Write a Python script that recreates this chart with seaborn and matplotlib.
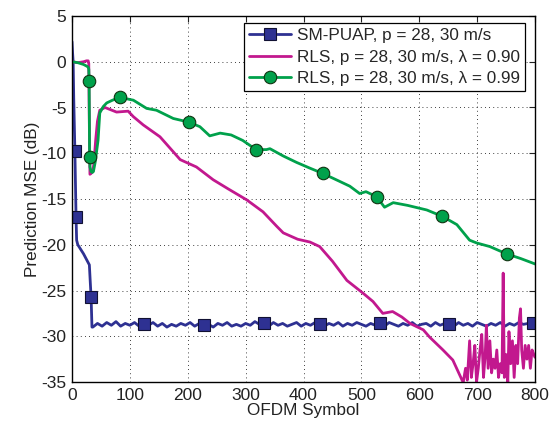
import numpy as np
import pandas as pd
import matplotlib
matplotlib.use("Agg")
import matplotlib.pyplot as plt
import seaborn as sns

# ---- data ----
# SM-PUAP: fast initial drop, then a noisy floor
sm_head_x = [0, 1, 2, 3, 5, 7, 8, 10, 15, 20, 25, 30, 31.5, 33, 34.5]
sm_head_y = [2.2, 1.0, 0.0, -4.0, -9.8, -17.0, -19.5, -20.0, -20.5, -21.0, -21.6, -22.2, -24.0, -25.7, -29.0]
sm_floor_x = np.arange(36, 800, 8)
sm_floor_y = [-29.0, -28.6, -28.9, -28.5, -28.8, -28.4, -28.9, -28.6, -28.8, -28.5, -28.9, -28.7,
              -28.8, -28.5, -28.9, -28.6, -29.0, -28.7, -28.9, -28.6, -28.8, -28.5, -28.9, -28.6,
              -28.8, -28.7, -29.0, -28.6, -28.8, -28.5, -28.9, -28.7, -28.9, -28.6, -28.8, -28.4,
              -28.7, -28.6, -28.9, -28.5, -28.8, -28.6, -28.9, -28.7, -28.5, -28.9, -28.6, -28.8,
              -28.5, -28.7, -28.9, -28.6, -28.8, -28.5, -28.9, -28.6, -28.8, -28.5, -28.7, -28.9,
              -28.6, -28.8, -28.6, -28.9, -28.5, -28.7, -28.9, -28.6, -28.8, -28.5, -28.9, -28.7,
              -28.6, -28.9, -28.5, -28.8, -28.6, -28.7, -28.9, -28.5, -28.8, -28.6, -28.9, -28.5,
              -28.7, -28.9, -28.6, -28.8, -28.5, -28.9, -28.6, -28.8, -28.5, -28.7, -28.6, -28.5]
sm_marker_x = [5, 7, 33, 124, 228, 332, 428, 532, 652, 796]

# RLS lambda = 0.90
rls90_x = [0, 10, 20, 25, 28, 29, 29.5, 30.5, 31, 33, 36, 38, 41, 44, 48, 57, 77, 97, 106, 123,
           152, 187, 215, 244, 270, 302, 330, 342, 354, 365, 390, 411, 428, 450, 475, 503, 520, 537,
           554, 570, 584, 607, 618, 641, 658, 674,
           676, 680, 683, 687, 690, 693, 696, 699, 702, 705, 708, 711, 714, 716, 719, 722, 725,
           728, 731, 734, 737, 740, 743, 745, 747, 750, 753, 755, 758, 761, 764, 767, 770, 773,
           775, 777, 780, 783, 786, 789, 792, 795, 798, 800]
rls90_y = [0.0, -0.1, 0.0, 0.1, 0.1, -0.2, -4.0, -10.0, -12.3, -12.2, -12.0, -11.0, -8.5, -6.5,
           -5.3, -5.0, -5.5, -5.4, -6.0, -6.9, -8.2, -10.7, -11.5, -12.9, -13.9, -15.1, -16.4,
           -17.2, -18.0, -18.7, -19.4, -19.7, -20.2, -21.8, -23.9, -25.3, -26.2, -27.5, -27.3, -27.9,
           -28.6, -29.3, -30.1, -31.5, -32.6, -34.8,
           -35.0, -33.5, -34.8, -30.5, -34.5, -33.0, -31.0, -35.0, -33.5, -31.5, -29.8, -34.5,
           -32.0, -28.8, -33.5, -30.5, -34.0, -32.5, -33.5, -31.5, -34.5, -33.0, -34.0, -23.1,
           -34.5, -32.0, -35.0, -29.5, -33.0, -30.5, -34.5, -31.0, -33.0, -28.0, -27.0, -31.5,
           -33.5, -31.0, -32.5, -31.0, -33.5, -31.5, -32.0, -32.3]

# RLS lambda = 0.99
rls99_x = [0, 10, 20, 26, 28, 29, 29.6, 30.4, 31, 33, 35, 37, 40, 45, 48, 54, 60, 70, 83, 106,
           129, 146, 175, 202, 221, 238, 256, 275, 295, 318, 336, 342, 365, 388, 410, 433, 460,
           480, 497, 508, 518, 527, 540, 555, 580, 613, 640, 665, 687, 699, 722, 751, 775, 796, 800]
rls99_y = [0.0, -0.1, -0.3, -0.5, -0.6, -0.8, -2.1, -10.4, -11.5, -12.0, -12.1, -12.0, -11.0,
           -8.6, -5.6, -4.9, -4.5, -4.2, -3.9, -4.2, -5.1, -5.3, -6.2, -6.6, -7.1, -8.1, -7.8,
           -8.0, -8.6, -9.6, -9.6, -9.5, -10.3, -11.0, -11.6, -12.2, -13.0, -13.6, -14.4, -14.2,
           -14.5, -14.8, -15.9, -15.4, -15.7, -16.2, -16.9, -17.8, -19.5, -19.8, -20.2, -21.0,
           -21.5, -22.0, -22.1]
rls99_marker_x = [29.6, 30.4, 83, 202, 318, 433, 527, 640, 751]

labels = ["SM-PUAP, p = 28, 30 m/s",
          "RLS, p = 28, 30 m/s, \u03bb = 0.90",
          "RLS, p = 28, 30 m/s, \u03bb = 0.99"]

sm_x = np.concatenate([sm_head_x, sm_floor_x])
sm_y = np.concatenate([sm_head_y, sm_floor_y])
sm_marks = [int(np.argmin(np.abs(sm_x - m))) for m in sm_marker_x]
rls99_marks = [rls99_x.index(m) for m in rls99_marker_x]

sm_df = pd.DataFrame({"x": sm_x, "y": sm_y})
r90_df = pd.DataFrame({"x": rls90_x, "y": rls90_y})
r99_df = pd.DataFrame({"x": rls99_x, "y": rls99_y})

# ---- style ----
sns.set_style("white")
plt.rcParams["font.family"] = ["Liberation Sans", "DejaVu Sans"]
plt.rcParams["xtick.direction"] = "in"
plt.rcParams["ytick.direction"] = "in"
plt.rcParams["axes.unicode_minus"] = False

blue = "#2E3192"
magenta = "#C2188E"
green = "#00A14B"
txt = "#222222"

fig = plt.figure(figsize=(5.55, 4.23), dpi=100)
ax = fig.add_axes([72 / 555, 41 / 423, 463 / 555, 366 / 423])

sns.lineplot(data=sm_df, x="x", y="y", ax=ax, color=blue, lw=2, sort=False,
             marker="s", markersize=9, markerfacecolor=blue, markeredgecolor="#111133",
             markeredgewidth=0.8, markevery=sm_marks, label=labels[0])
sns.lineplot(data=r90_df, x="x", y="y", ax=ax, color=magenta, lw=2, sort=False,
             label=labels[1])
sns.lineplot(data=r99_df, x="x", y="y", ax=ax, color=green, lw=2, sort=False,
             marker="o", markersize=9, markerfacecolor=green, markeredgecolor="#113311",
             markeredgewidth=0.8, markevery=rls99_marks, label=labels[2])

ax.set_xlim(0, 800)
ax.set_ylim(-35, 5)
ax.set_xticks(range(0, 801, 100))
ax.set_yticks(range(-35, 6, 5))
ax.tick_params(labelsize=12.5, colors=txt, length=4, width=0.8,
               top=True, right=True)
ax.tick_params(axis="y", pad=4)
ax.tick_params(axis="x", pad=4)
ax.grid(True, color="black", linestyle=(0, (1, 4)), lw=0.6)
for s in ax.spines.values():
    s.set_color("black")
    s.set_linewidth(1.0)

ax.set_xlabel("OFDM Symbol", fontsize=12.3, color=txt, labelpad=0)
ax.set_ylabel("Prediction MSE (dB)", fontsize=12.3, color=txt, labelpad=1)

leg = ax.legend(loc="upper right", bbox_to_anchor=(0.985, 0.99), fontsize=12.3,
                frameon=True, fancybox=False, framealpha=1, edgecolor="black",
                borderpad=0.3, labelspacing=0.38, handlelength=2.5,
                handletextpad=0.3, borderaxespad=0.2)
leg.get_frame().set_linewidth(0.9)

fig.savefig("out.png", dpi=100)
